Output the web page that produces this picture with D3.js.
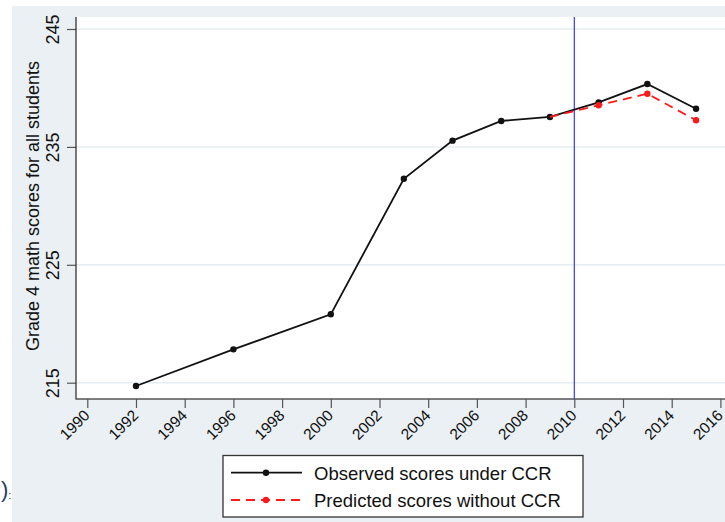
<!DOCTYPE html>
<html>
<head>
<meta charset="utf-8">
<script src="https://cdn.jsdelivr.net/npm/d3@7"></script>
<style>
  html, body { margin: 0; padding: 0; background: #ffffff; }
  svg { display: block; font-family: "Liberation Sans", Arial, Helvetica, sans-serif; }
</style>
</head>
<body>
<svg id="chart" width="725" height="522"></svg>
<script>
// NAEP grade 4 math scores, observed vs. predicted without CCR
const years = [1992, 1996, 2000, 2003, 2005, 2007, 2009, 2011, 2013, 2015];
const observed = [214.72, 217.83, 220.8, 232.3, 235.53, 237.2, 237.54, 238.78, 240.33, 238.24];
const predYears = [2009, 2011, 2013, 2015];
const predicted = [237.54, 238.53, 239.51, 237.26];
const yTicks = [215, 225, 235, 245];
const xTicks = [1990, 1992, 1994, 1996, 1998, 2000, 2002, 2004, 2006, 2008, 2010, 2012, 2014, 2016];
const policyYear = 2010;
const yTitle = "Grade 4 math scores for all students";
const legendLabels = ["Observed scores under CCR", "Predicted scores without CCR"];

const svg = d3.select("#chart");

// outer graph region
svg.append("rect").attr("x", 12).attr("y", 6).attr("width", 713).attr("height", 516)
  .attr("fill", "#eaf0f3");

// stray text from the surrounding page
svg.append("text").attr("x", 1).attr("y", 497).attr("fill", "#1f3d6d")
  .style("font-size", "22px").text(")")
  .append("tspan").style("font-size", "11px").attr("dy", 2).text(":");

// plot region
const plot = { left: 76, top: 17, right: 725, bottom: 399 };
svg.append("rect").attr("x", plot.left).attr("y", plot.top)
  .attr("width", plot.right - plot.left).attr("height", plot.bottom - plot.top)
  .attr("fill", "#ffffff");

const x = d3.scaleLinear().domain([1990, 2016]).range([87.3, 720.4]);
const y = d3.scaleLinear().domain([215, 245]).range([382.7, 29]);

// horizontal grid lines
svg.append("g").selectAll("line").data(yTicks).join("line")
  .attr("x1", plot.left).attr("x2", plot.right)
  .attr("y1", d => y(d)).attr("y2", d => y(d))
  .attr("stroke", "#e6eef1").attr("stroke-width", 1.5);

// y axis
const yAxis = svg.append("g").attr("transform", `translate(${plot.left},0)`)
  .call(d3.axisLeft(y).tickValues(yTicks).tickSize(9).tickPadding(0).tickFormat(d3.format("d")));
yAxis.select(".domain").remove();
yAxis.selectAll(".tick line").attr("stroke", "#555").attr("stroke-width", 1.2);
yAxis.selectAll(".tick text").remove();
yAxis.selectAll(".tick").append("text")
  .attr("transform", "translate(-17,0) rotate(-90)")
  .attr("text-anchor", "middle").attr("fill", "#111")
  .style("font-size", "18px").text(d => d);
svg.append("line").attr("x1", plot.left).attr("x2", plot.left)
  .attr("y1", plot.top).attr("y2", plot.bottom + 0.5)
  .attr("stroke", "#333").attr("stroke-width", 1.3);

// x axis
const xAxis = svg.append("g").attr("transform", `translate(0,${plot.bottom})`)
  .call(d3.axisBottom(x).tickValues(xTicks).tickSize(9).tickFormat(d3.format("d")));
xAxis.select(".domain").remove();
xAxis.selectAll(".tick line").attr("stroke", "#555").attr("stroke-width", 1.2);
xAxis.selectAll(".tick text").remove();
xAxis.selectAll(".tick").append("text")
  .attr("transform", "translate(-5,9.5) rotate(-45)")
  .attr("text-anchor", "end").attr("dy", "0.72em").attr("fill", "#111")
  .style("font-size", "15.5px").text(d => d);
svg.append("line").attr("x1", plot.left).attr("x2", plot.right)
  .attr("y1", plot.bottom).attr("y2", plot.bottom)
  .attr("stroke", "#555").attr("stroke-width", 1.3);

// y axis title
svg.append("text")
  .attr("transform", `translate(39,${(plot.top + plot.bottom) / 2 - 2}) rotate(-90)`)
  .attr("text-anchor", "middle").attr("fill", "#111")
  .style("font-size", "18px").text(yTitle);

// policy year reference line
svg.append("line").attr("x1", x(policyYear)).attr("x2", x(policyYear))
  .attr("y1", plot.top).attr("y2", plot.bottom)
  .attr("stroke", "#3535ff").attr("stroke-width", 1.2);

const line = d3.line().x(d => x(d[0])).y(d => y(d[1]));

// observed series
const obsData = years.map((yr, i) => [yr, observed[i]]);
svg.append("path").datum(obsData).attr("d", line)
  .attr("fill", "none").attr("stroke", "#111").attr("stroke-width", 1.8);
svg.append("g").selectAll("circle").data(obsData).join("circle")
  .attr("cx", d => x(d[0])).attr("cy", d => y(d[1])).attr("r", 3.2).attr("fill", "#111");

// predicted series
const predData = predYears.map((yr, i) => [yr, predicted[i]]);
svg.append("path").datum(predData).attr("d", line)
  .attr("fill", "none").attr("stroke", "#ff1a1a").attr("stroke-width", 1.8)
  .attr("stroke-dasharray", "9,6");
svg.append("g").selectAll("circle").data(predData.slice(1)).join("circle")
  .attr("cx", d => x(d[0])).attr("cy", d => y(d[1])).attr("r", 3.2).attr("fill", "#ff1a1a");

// legend
const legend = svg.append("g");
legend.append("rect").attr("x", 223).attr("y", 455.5).attr("width", 360).attr("height", 61.5)
  .attr("fill", "#ffffff").attr("stroke", "#333").attr("stroke-width", 1.3);
const rows = [
  { label: legendLabels[0], color: "#111", dash: null, ly: 472.7, ty: 480 },
  { label: legendLabels[1], color: "#ff1a1a", dash: "9,6", ly: 500, ty: 507 }
];
rows.forEach(r => {
  legend.append("line").attr("x1", 231).attr("x2", 302).attr("y1", r.ly).attr("y2", r.ly)
    .attr("stroke", r.color).attr("stroke-width", 1.8)
    .attr("stroke-dasharray", r.dash);
  legend.append("circle").attr("cx", 266).attr("cy", r.ly).attr("r", 3.2).attr("fill", r.color);
  legend.append("text").attr("x", 314).attr("y", r.ty).attr("fill", "#111")
    .style("font-size", "18.5px").text(r.label);
});
</script>
</body>
</html>
